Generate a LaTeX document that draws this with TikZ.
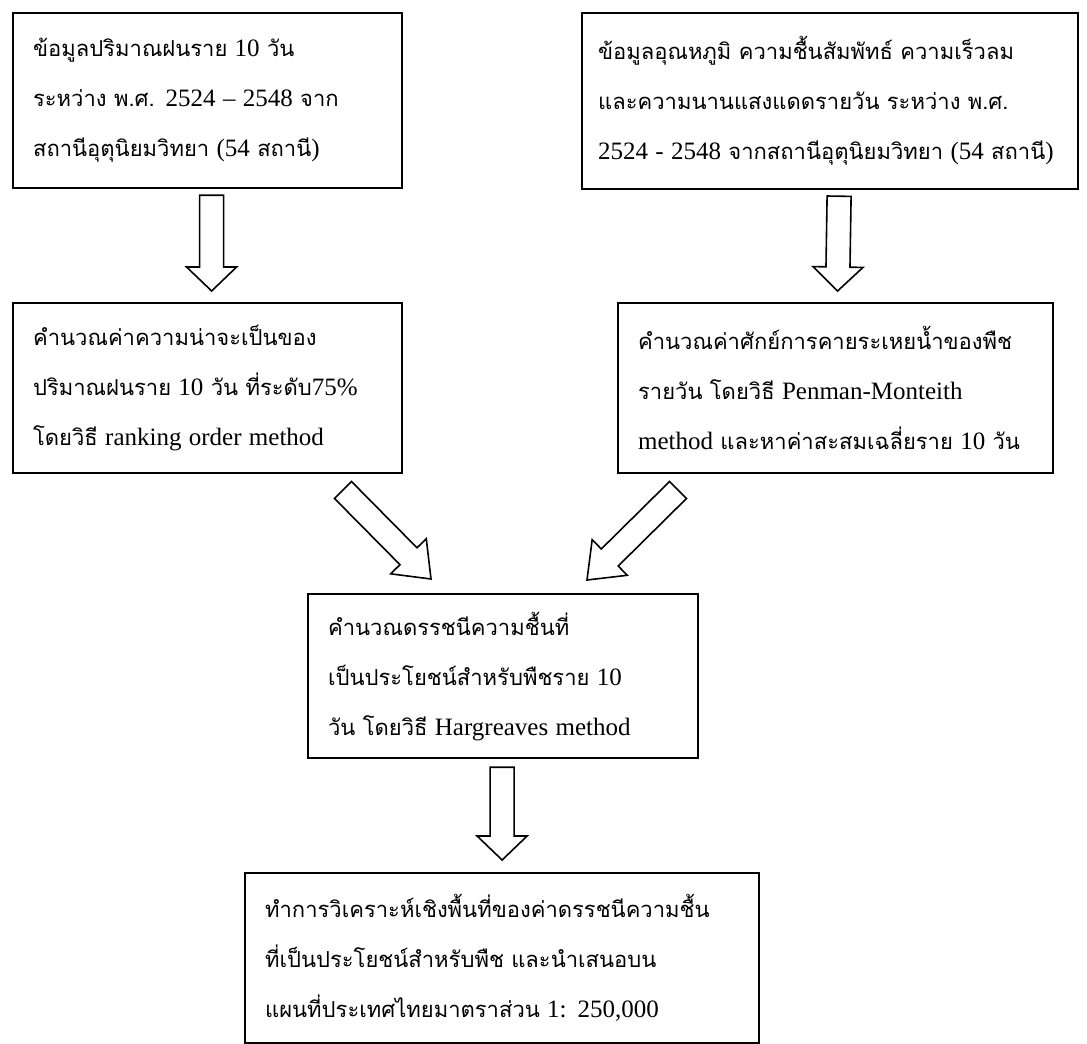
\documentclass[tikz,border=0pt]{standalone}
\usepackage{fontspec}
\usetikzlibrary{calc}
\setmainfont[Script=Thai, Scale=0.88]{Loma}
\newfontfamily\latinfont{Liberation Serif}
\newcommand{\eng}[1]{{\latinfont #1}}

\tikzset{
  stagebox/.style={draw, line width=1.1pt, rectangle, anchor=north west, align=left,
    inner xsep=10pt, inner ysep=0pt, font=\fontsize{12.5pt}{25pt}\selectfont},
  headlen/.store in=\headlen, headlen=12pt,
  hollow/.style={draw, line width=0.8pt, fill=white, to path={
    ($(\tikztotarget)!\headlen!(\tikztostart)$) coordinate (hbase)
    ($(\tikztostart)!6pt!90:(\tikztotarget)$) -- ($(hbase)!6pt!-90:(\tikztostart)$)
    -- ($(hbase)!12.5pt!-90:(\tikztostart)$) -- (\tikztotarget)
    -- ($(hbase)!12.5pt!90:(\tikztostart)$) -- ($(hbase)!6pt!90:(\tikztostart)$)
    -- ($(\tikztostart)!6pt!-90:(\tikztotarget)$) -- cycle}}
}

\begin{document}
\begin{tikzpicture}[x=0.5pt, y=-0.5pt]
    \useasboundingbox (0,0) rectangle (1087,1044);

    % input data
    \node[stagebox, text width=174.5pt, minimum height=87.5pt] (rain) at (12,12)
        {ข้อมูลปริมาณฝนราย \eng{10} วัน\\ระหว่าง พ.ศ. \eng{2524 – 2548} จาก\\สถานีอุตุนิยมวิทยา \eng{(54} สถานี\eng{)}};
    \node[stagebox, inner xsep=8pt, text width=232pt, minimum height=88pt] (climate) at (581,12)
        {ข้อมูลอุณหภูมิ ความชื้นสัมพัทธ์ ความเร็วลม\\และความนานแสงแดดรายวัน ระหว่าง พ.ศ.\\\eng{2524 - 2548} จากสถานีอุตุนิยมวิทยา \eng{(54} สถานี\eng{)}};

    % calculation steps
    \node[stagebox, text width=174.5pt, minimum height=85pt] (prob) at (12,302)
        {คำนวณค่าความน่าจะเป็นของ\\ปริมาณฝนราย \eng{10} วัน ที่ระดับ\eng{75\%}\\โดยวิธี \eng{ranking order method}};
    \node[stagebox, text width=197.5pt, minimum height=85pt] (pet) at (617,302)
        {คำนวณค่าศักย์การคายระเหยน้ำของพืช\\รายวัน โดยวิธี \eng{Penman-Monteith}\\\eng{method} และหาค่าสะสมเฉลี่ยราย \eng{10} วัน};
    \node[stagebox, text width=175pt, minimum height=82pt] (index) at (307,593)
        {คำนวณดรรชนีความชื้นที่\\เป็นประโยชน์สำหรับพืชราย \eng{10}\\วัน โดยวิธี \eng{Hargreaves method}};
    \node[stagebox, text width=237pt, minimum height=85pt] (map) at (244,872)
        {ทำการวิเคราะห์เชิงพื้นที่ของค่าดรรชนีความชื้น\\ที่เป็นประโยชน์สำหรับพืช และนำเสนอบน\\แผนที่ประเทศไทยมาตราส่วน \eng{1: 250,000}};

    % block arrows
    \coordinate (a1) at ($(rain.south)+(4,6)$);
    \coordinate (a2) at ($(prob.north)+(4,-11)$);
    \coordinate (b1) at ($(climate.south)+(9,6)$);
    \coordinate (b2) at ($(pet.north)+(2,-11)$);
    \coordinate (c1) at (343,490);
    \coordinate (c2) at (431,579);
    \coordinate (d1) at (678,490);
    \coordinate (d2) at (587,580);
    \coordinate (e1) at ($(index.south)+(-1,8)$);
    \coordinate (e2) at ($(map.north)+(0,-12)$);

    \draw[hollow] (a1) to (a2);
    \draw[hollow] (b1) to (b2);
    \draw[hollow, headlen=16pt] (c1) to (c2);
    \draw[hollow, headlen=16pt] (d1) to (d2);
    \draw[hollow] (e1) to (e2);
\end{tikzpicture}
\end{document}
